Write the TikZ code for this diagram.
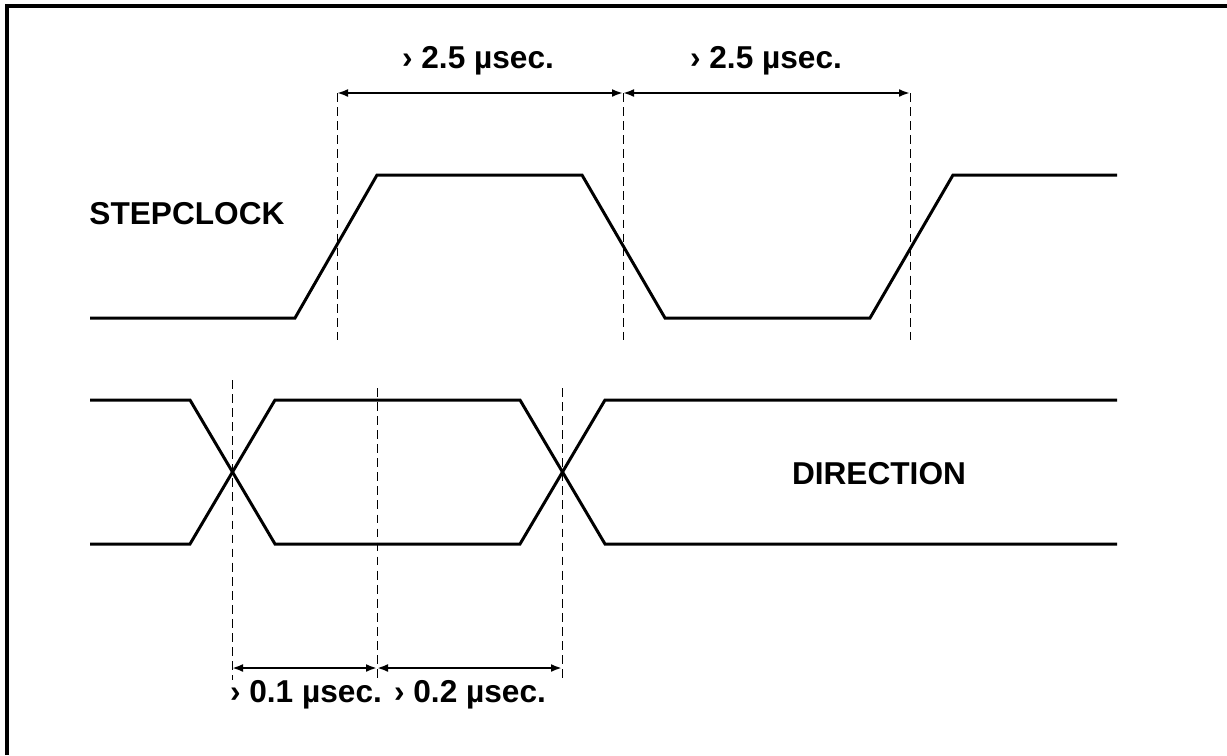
\documentclass[tikz,border=0pt]{standalone}
\usepackage{fontspec}
\setmainfont{Liberation Sans}
\usepackage{tikz}
\usetikzlibrary{arrows.meta}
\usetikzlibrary{positioning}

\begin{document}
\begin{tikzpicture}[x=0.02cm,y=-0.02cm,
  wave/.style={line width=1.7pt},
  guide/.style={dash pattern=on 5pt off 3pt, line width=0.5pt},
  span/.style={{Latex[length=2.2mm,width=1.6mm]}-{Latex[length=2.2mm,width=1.6mm]}, line width=1.3pt},
  lbl/.style={font=\fontsize{18}{20}\selectfont\bfseries, anchor=base, inner sep=0pt}]
\useasboundingbox (0,0) rectangle (1227,755);
\draw[line width=2pt] (7,755) -- (7,6) -- (1227,6);

% stepclock
\draw[wave] (90,318) -- (295,318) -- (377,175) -- (582,175) -- (665,318) -- (870,318) -- (953,175) -- (1117,175);
% direction
\draw[wave] (90,400) -- (190,400) -- (275,544) -- (520,544) -- (605,400) -- (1117,400);
\draw[wave] (90,544) -- (190,544) -- (275,400) -- (520,400) -- (605,544) -- (1117,544);

\coordinate (s1) at (337,93);
\coordinate (s2) at (623,93);
\coordinate (s3) at (910,93);
\coordinate (s1e) at (337,340);
\coordinate (s2e) at (623,340);
\coordinate (s3e) at (910,340);
\draw[guide] (s1) -- (s1e);
\draw[guide] (s2) -- (s2e);
\draw[guide] (s3) -- (s3e);
\draw[span] (s1) -- (s2);
\draw[span] (s2) -- (s3);

\coordinate (d1) at (232,380);
\coordinate (d2) at (377,388);
\coordinate (d3) at (562,388);
\coordinate (d1e) at (232,680);
\coordinate (d2e) at (377,680);
\coordinate (d3e) at (562,680);
\coordinate (m1) at (232,668);
\coordinate (m2) at (377,668);
\coordinate (m3) at (562,668);
\draw[guide] (d1) -- (d1e);
\draw[guide] (d2) -- (d2e);
\draw[guide] (d3) -- (d3e);
\draw[span] (m1) -- (m2);
\draw[span] (m2) -- (m3);

\node[lbl] (clk) at (187,224) {STEPCLOCK};
\node[lbl] (dir) at (879,484) {DIRECTION};
\node[lbl] (hi) at (478,68) {› 2.5 µsec.};
\node[lbl] (lo) at (766,68) {› 2.5 µsec.};
\node[lbl] (setup) at (306,702) {› 0.1 µsec.};
\node[lbl] (hold) at (470,702) {› 0.2 µsec.};
\end{tikzpicture}
\end{document}
